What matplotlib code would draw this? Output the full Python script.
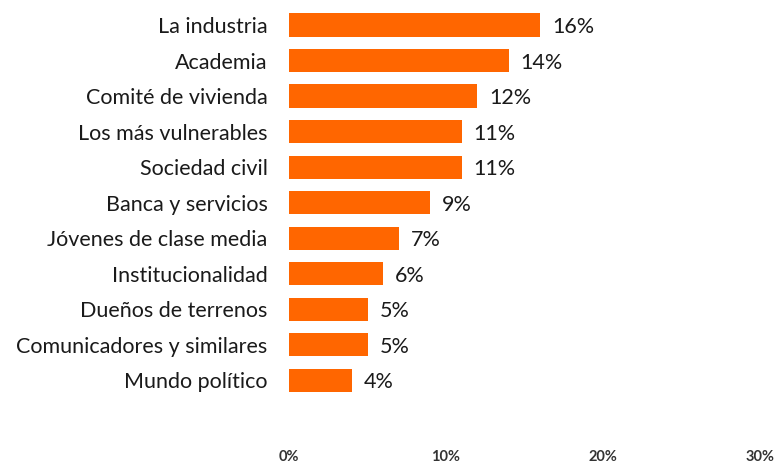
import matplotlib
matplotlib.use("Agg")
import matplotlib.pyplot as plt

categories = ["La industria", "Academia", "Comité de vivienda", "Los más vulnerables",
              "Sociedad civil", "Banca y servicios", "Jóvenes de clase media",
              "Institucionalidad", "Dueños de terrenos", "Comunicadores y similares",
              "Mundo político"]
values = [16, 14, 12, 11, 11, 9, 7, 6, 5, 5, 4]
xticks = [0, 10, 20, 30]
xticklabels = ["0%", "10%", "20%", "30%"]

plt.rcParams['font.family'] = ['Lato', 'DejaVu Sans']

W, H = 778, 463
fig = plt.figure(figsize=(W/100, H/100), dpi=100)
left, right, top, bottom = 289, 760, 7, 443
ax = fig.add_axes([left/W, (H-bottom)/H, (right-left)/W, (bottom-top)/H])

ypos = list(range(len(categories)))
ax.barh(ypos, values, height=0.65, color="#FF6600")
ax.set_xlim(0, 30)
ax.set_ylim(11.77, -0.507)
ax.set_yticks(ypos)
ax.set_yticklabels(categories, fontsize=15.5, color="#1a1a1a")
ax.set_xticks(xticks)
ax.set_xticklabels(xticklabels, fontsize=10.5, fontweight="bold", color="#333333")
ax.tick_params(axis='y', length=0, pad=15.5)
ax.tick_params(axis='x', length=0, pad=5)
for s in ax.spines.values():
    s.set_visible(False)

for y, v in zip(ypos, values):
    ax.annotate(f"{v}%", (v, y), xytext=(8.5, -1.5), textcoords="offset points",
                va="center", ha="left", fontsize=15.5, color="#1a1a1a")

fig.savefig("out.png", dpi=100)
